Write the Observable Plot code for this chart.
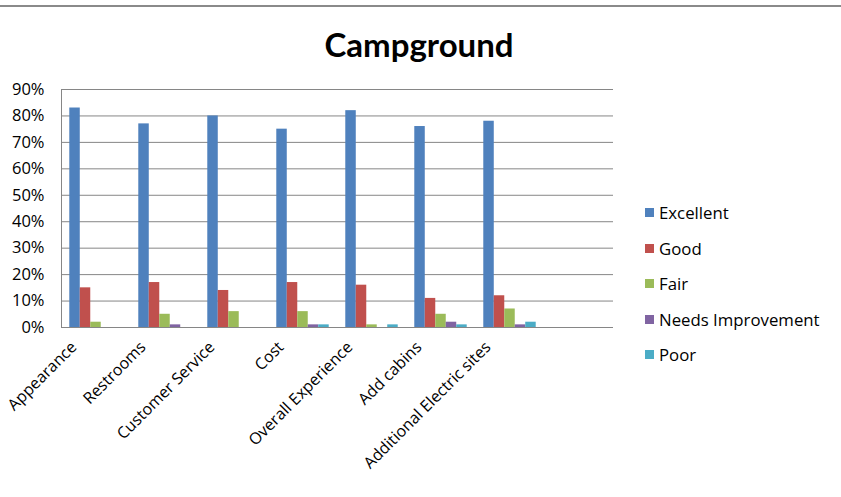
<!DOCTYPE html>
<html>
<head>
<meta charset="utf-8">
<script src="https://cdn.jsdelivr.net/npm/d3@7"></script>
<script src="https://cdn.jsdelivr.net/npm/@observablehq/plot@0.6"></script>
<style>
  html, body { margin: 0; padding: 0; background: #fff; }
  #wrap { position: relative; width: 841px; height: 497px; overflow: hidden; font-family: "Open Sans", sans-serif; }
  #topline { position: absolute; left: 0; top: 5px; width: 841px; height: 0; border-top: 2px solid #8a8a8a; }
  #title { position: absolute; left: 0; width: 838px; top: 24px; text-align: center; font-family: Lato, sans-serif; font-size: 33px; font-weight: bold; color: #000; line-height: 40px; }
  #chart { position: absolute; left: 0; top: 0; }
  #legend { position: absolute; left: 645px; top: 195px; font-size: 16.8px; color: #000; }
  .item { height: 35.5px; display: flex; align-items: center; }
  .sw { width: 9px; height: 9px; margin-right: 5px; }
</style>
</head>
<body>
<div id="wrap">
  <div id="topline"></div>
  <div id="chart"></div>
  <div id="title">Campground</div>
  <div id="legend"></div>
</div>
<script>
const categories = ["Appearance", "Restrooms", "Customer Service", "Cost", "Overall Experience", "Add cabins", "Additional Electric sites"];
const series = ["Excellent", "Good", "Fair", "Needs Improvement", "Poor"];
const colors = ["#4F81BD", "#C0504D", "#9BBB59", "#8064A2", "#4BACC6"];
const excellent = [83, 77, 80, 75, 82, 76, 78];
const good      = [15, 17, 14, 17, 16, 11, 12];
const fair      = [2, 5, 6, 6, 1, 5, 7];
const needsImp  = [0, 1, 0, 1, 0, 2, 1];
const poor      = [0, 0, 0, 1, 1, 1, 2];
const yTicks = [0, 10, 20, 30, 40, 50, 60, 70, 80, 90];

const valuesBySeries = [excellent, good, fair, needsImp, poor];
const data = [];
categories.forEach((c, i) => {
  series.forEach((s, j) => data.push({category: c, series: s, value: valuesBySeries[j][i]}));
});
const fxDomain = [...categories, "\u200b"];
const gridData = [];
fxDomain.forEach(c => yTicks.forEach(t => gridData.push({category: c, y: t})));

const chart = Plot.plot({
  width: 841,
  height: 497,
  marginLeft: 60,
  marginRight: 228,
  marginTop: 89,
  marginBottom: 170,
  style: {fontFamily: "'Open Sans', sans-serif", fontSize: "16px", color: "#000", background: "transparent", overflow: "visible"},
  fx: {domain: fxDomain, padding: 0, label: null},
  x: {domain: series, paddingInner: 0, paddingOuter: 0.79, axis: null, round: false},
  y: {domain: [0, 90], label: null},
  color: {domain: series, range: colors},
  marks: [
    Plot.ruleY(gridData, {fx: "category", y: "y", stroke: "#868686", strokeOpacity: 1}),
    Plot.frame({anchor: "left", facetAnchor: "left", stroke: "#868686"}),
    Plot.barY(data, {fx: "category", x: "series", y: "value", fill: "series", inset: 0}),
    Plot.axisY(yTicks, {tickSize: 0, tickPadding: 17, tickFormat: d => d + "%", label: null, fontSize: 16.5}),
    Plot.axisFx({anchor: "bottom", tickSize: 0, tickRotate: -45, tickPadding: 17, dx: -22, label: null, fontSize: 16})
  ]
});
document.getElementById("chart").appendChild(chart);

const legend = document.getElementById("legend");
series.forEach((s, j) => {
  const row = document.createElement("div");
  row.className = "item";
  const sw = document.createElement("span");
  sw.className = "sw";
  sw.style.background = colors[j];
  row.appendChild(sw);
  row.appendChild(document.createTextNode(s));
  legend.appendChild(row);
});
</script>
</body>
</html>
